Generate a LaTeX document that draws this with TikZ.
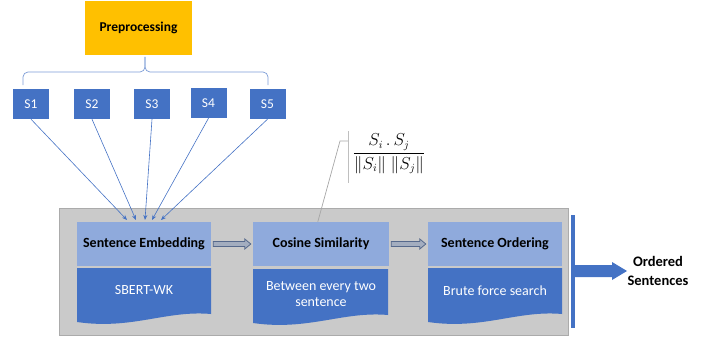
\documentclass[tikz,border=0pt]{standalone}
\usepackage{amsmath}
\usepackage{fontspec}
\setmainfont{Carlito}
\usetikzlibrary{calc,positioning,arrows.meta}
\definecolor{officeorange}{HTML}{FFC000}
\definecolor{officeblue}{HTML}{4472C4}
\definecolor{paleblue}{HTML}{8FAADC}
\definecolor{panelgray}{HTML}{CACACA}
\definecolor{paneledge}{HTML}{ABABAB}
\definecolor{flowfill}{HTML}{A3ADBF}
\definecolor{flowedge}{HTML}{56698C}
\newcommand{\docshape}[3]{% x left, y top, x right
  \fill[officeblue] (#1,#2) -- (#3,#2) -- (#3,#2+46)
    .. controls (#3-45,#2+42) and (#1+55,#2+62) .. (#1,#2+54) -- cycle;}

\begin{document}
\begin{tikzpicture}[x=1pt,y=-1pt]
        \tikzstyle{sbox}=[rectangle,fill=officeblue,text=white,minimum width=36pt,minimum height=30pt,inner sep=0pt,font=\fontsize{13.5}{15}\selectfont]
        \tikzstyle{headbox}=[rectangle,fill=paleblue,minimum width=134pt,minimum height=44pt,inner sep=0pt,font=\bfseries\fontsize{14}{16}\selectfont]
        \tikzstyle{doctext}=[text=white,align=center,font=\fontsize{14}{16.5}\selectfont]
        \tikzstyle{feed}=[officeblue,line width=0.6pt,-{Stealth[length=5pt,width=4pt]}]
        \tikzstyle{flow}=[draw=flowedge,fill=flowfill,line width=0.8pt]
        \useasboundingbox (0,0) rectangle (712,337);
        % Preprocessing block
        \node (pre)[rectangle,fill=officeorange,minimum width=107pt,minimum height=54pt,font=\bfseries\fontsize{13.5}{15}\selectfont] at (138.5,28) {Preprocessing};
        % Sentences
        \foreach \i/\x/\y in {1/31/104,2/92/104,3/152/104,4/208.5/103,5/267.5/104}
            \node (s\i)[sbox] at (\x,\y) {S\i};
        % Brace under preprocessing
        \coordinate (bl) at (23,85);
        \coordinate (br) at (268,85);
        \coordinate (bm) at (145,72);
        \coordinate (bt) at (145,57);
        \draw[officeblue!70,line width=0.7pt,rounded corners=5pt] (bl) |- (bm) -- (bt);
        \draw[officeblue!70,line width=0.7pt,rounded corners=5pt] (br) |- (bm) -- (bt);
        % Gray panel
        \node (panel)[rectangle,fill=panelgray,draw=paneledge,line width=0.8pt,minimum width=509pt,minimum height=127pt,inner sep=0pt] at (313.5,271.5) {};
        % Headers
        \node (emb)[headbox] at (144,244) {Sentence Embedding};
        \node (cos)[headbox,minimum width=136pt] at (321,244) {Cosine Similarity};
        \node (ord)[headbox] at (495,244) {Sentence Ordering};
        % Documents under the headers
        \docshape{77}{268}{211}
        \docshape{253}{269}{388}
        \docshape{428}{268}{562}
        \node (sbert)[doctext] at (144,290) {SBERT-WK};
        \node (between)[doctext] at (321,294) {Between every two\\sentence};
        \node (brute)[doctext] at (495,291) {Brute force search};
        % Sentences feed the embedding
        \foreach \i/\x in {1/127,2/136,3/145,4/152,5/161} {
            \coordinate (e\i) at (\x,220);
            \draw[feed] (s\i.south) -- (e\i);
        }
        % Flow arrows between stages
        \foreach \a/\b in {emb/cos,cos/ord}
            \draw[flow] ($(\a.east)+(2,-2.5)$) -- ($(\b.west)+(-8,-2.5)$) -- ($(\b.west)+(-8,-5)$)
                -- ($(\b.west)+(-2,0)$) -- ($(\b.west)+(-8,5)$) -- ($(\b.west)+(-8,2.5)$)
                -- ($(\a.east)+(2,2.5)$) -- cycle;
        % Formula with callout
        \node (frac) at (389,154) {\fontsize{16}{18}\selectfont$\dfrac{S_i\,.\,S_j}{\lVert S_i\rVert\;\lVert S_j\rVert}$};
        \coordinate (ca) at ($(cos.north west)+(65,0)$);
        \coordinate (ck) at (340,141);
        \coordinate (cb) at (348,141);
        \draw[gray!70,line width=0.7pt] (ca) -- (ck) -- (cb);
        \draw[gray!50,line width=0.7pt] (348,131) -- (348,183);
        % Output
        \coordinate (vt) at (573,215);
        \coordinate (vb) at (573,328);
        \draw[officeblue,line width=4pt] (vt) -- (vb);
        \node (out)[align=center,font=\bfseries\fontsize{14.5}{19}\selectfont] at (658,271) {Ordered\\Sentences};
        \fill[officeblue] (575,265) -- (612,265) -- (612,262) -- (627,271) -- (612,280) -- (612,277) -- (575,277) -- cycle;
\end{tikzpicture}
\end{document}
